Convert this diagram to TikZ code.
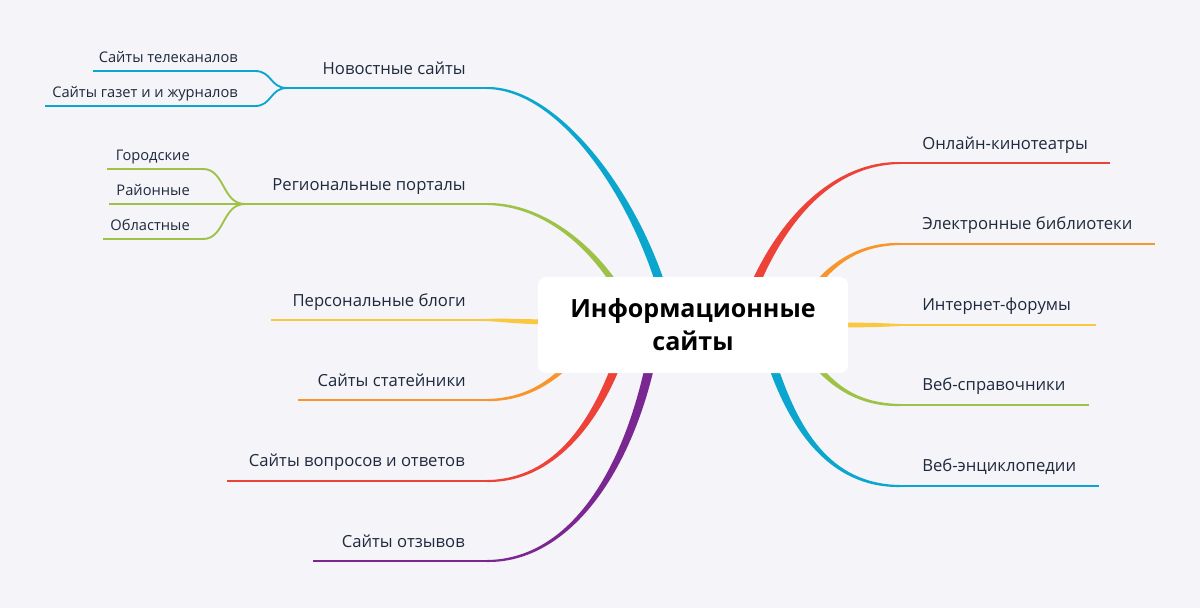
\documentclass[tikz,border=0pt]{standalone}
\usepackage{fontspec}
\setmainfont{Open Sans}
\usepackage{xcolor}
\definecolor{bg}{HTML}{F4F4F9}
\definecolor{ink}{HTML}{1E2A3C}
\definecolor{cblue}{HTML}{0AA6CE}
\definecolor{cgreen}{HTML}{9DC246}
\definecolor{cyellow}{HTML}{F9C83E}
\definecolor{corange}{HTML}{F7962D}
\definecolor{cred}{HTML}{EC4237}
\definecolor{cpurple}{HTML}{7B2792}
\usepackage{tikz}
\usetikzlibrary{calc, positioning, backgrounds}

% tapered branch: colour, start, control 1, control 2, end, half width at end
\newcommand{\limb}[6]{%
  \fill[#1] ($#2+(0,-1)$) .. controls ($#3+(0,-2)$) and ($#4+#6$) .. ($#5+#6$)
    -- ($#5-#6$) .. controls ($#4-#6$) and ($#3+(0,2)$) .. ($#2+(0,1)$) -- cycle;}

\begin{document}
\begin{tikzpicture}[x=0.75pt, y=-0.75pt,
  hub/.style={fill=white, rounded corners=6pt, minimum width=232.5pt,
              minimum height=72pt, align=center, text=black,
              font=\fontsize{18.8}{24.75}\selectfont\bfseries},
  lbl/.style={font=\fontsize{12.5}{15}\selectfont, text=ink, inner sep=0pt},
  sublbl/.style={font=\fontsize{11}{13}\selectfont, text=ink, inner sep=0pt},
  rule/.style={line width=1.5pt},
  twig/.style={line width=1.4pt}]

  \useasboundingbox (0,0) rectangle (1200,608);

  \node[hub] (hub) at (693,325) {Информационные\\сайты};

  % left side
  \node[lbl, anchor=base east] (news) at (466,74) {Новостные сайты};
  \coordinate (news-a) at (287,88);
  \coordinate (news-b) at (487,88);
  \node[sublbl, anchor=base east] (tv) at (238,62) {Сайты телеканалов};
  \coordinate (tv-a) at (93,71);
  \coordinate (tv-b) at (255,71);
  \node[sublbl, anchor=base east] (press) at (238,97) {Сайты газет и и журналов};
  \coordinate (press-a) at (45,106);
  \coordinate (press-b) at (255,106);

  \node[lbl, anchor=base east] (region) at (466,190) {Региональные порталы};
  \coordinate (region-a) at (245,204);
  \coordinate (region-b) at (487,204);
  \node[sublbl, anchor=base east] (city) at (190,160) {Городские};
  \coordinate (city-a) at (107,169);
  \coordinate (city-b) at (203,169);
  \node[sublbl, anchor=base east] (district) at (190,195) {Районные};
  \coordinate (district-a) at (109,204);
  \node[sublbl, anchor=base east] (oblast) at (190,230) {Областные};
  \coordinate (oblast-a) at (103,239);
  \coordinate (oblast-b) at (203,239);

  \node[lbl, anchor=base east] (blogs) at (466,306) {Персональные блоги};
  \coordinate (blogs-a) at (271,320);
  \coordinate (blogs-b) at (487,320);

  \node[lbl, anchor=base east] (articles) at (466,386) {Сайты статейники};
  \coordinate (articles-a) at (298,400);
  \coordinate (articles-b) at (487,400);

  \node[lbl, anchor=base east] (qa) at (465,466) {Сайты вопросов и ответов};
  \coordinate (qa-a) at (227,481);
  \coordinate (qa-b) at (487,481);

  \node[lbl, anchor=base east] (reviews) at (465,547) {Сайты отзывов};
  \coordinate (reviews-a) at (313,561);
  \coordinate (reviews-b) at (487,561);

  % right side
  \node[lbl, anchor=base west] (cinema) at (922,149) {Онлайн-кинотеатры};
  \coordinate (cinema-a) at (900,163);
  \coordinate (cinema-b) at (1110,163);

  \node[lbl, anchor=base west] (library) at (922,229) {Электронные библиотеки};
  \coordinate (library-a) at (900,244);
  \coordinate (library-b) at (1155,244);

  \node[lbl, anchor=base west] (forums) at (922,310) {Интернет-форумы};
  \coordinate (forums-a) at (900,325);
  \coordinate (forums-b) at (1096,325);

  \node[lbl, anchor=base west] (reference) at (922,390) {Веб-справочники};
  \coordinate (reference-a) at (900,405);
  \coordinate (reference-b) at (1089,405);

  \node[lbl, anchor=base west] (encyclo) at (922,471) {Веб-энциклопедии};
  \coordinate (encyclo-a) at (900,486);
  \coordinate (encyclo-b) at (1099,486);

  \begin{scope}[on background layer]
    \fill[bg] (0,0) rectangle (1200,608);

    % branches into the hub
    \limb{cblue}{(news-b)}{(560,88)}{(640,200)}{(668,310)}{(4.8,0)}
    \limb{cgreen}{(region-b)}{(545,204)}{(600,250)}{(630,310)}{(4,0)}
    \limb{cyellow}{(blogs-b)}{(505,320)}{(520,322)}{(560,322)}{(0,-2.5)}
    \limb{corange}{(articles-b)}{(522,400)}{(555,385)}{(585,345)}{(-3.8,0)}
    \limb{cred}{(qa-b)}{(555,481)}{(600,420)}{(625,340)}{(-4.8,0)}
    \limb{cpurple}{(reviews-b)}{(570,561)}{(632,470)}{(655,340)}{(-4.8,0)}

    \limb{cred}{(cinema-a)}{(830,163)}{(775,225)}{(745,310)}{(-4.8,0)}
    \limb{corange}{(library-a)}{(860,244)}{(830,262)}{(805,300)}{(-3.8,0)}
    \limb{cyellow}{(forums-a)}{(880,325)}{(865,325)}{(830,325)}{(0,-2.5)}
    \limb{cgreen}{(reference-a)}{(860,405)}{(830,388)}{(805,350)}{(3.8,0)}
    \limb{cblue}{(encyclo-a)}{(830,486)}{(790,430)}{(765,340)}{(4.8,0)}

    % underlines
    \draw[rule, cblue] (news-a) -- (news-b);
    \draw[rule, cgreen] (region-a) -- (region-b);
    \draw[rule, cyellow] (blogs-a) -- (blogs-b);
    \draw[rule, corange] (articles-a) -- (articles-b);
    \draw[rule, cred] (qa-a) -- (qa-b);
    \draw[rule, cpurple] (reviews-a) -- (reviews-b);
    \draw[rule, cred] (cinema-a) -- (cinema-b);
    \draw[rule, corange] (library-a) -- (library-b);
    \draw[rule, cyellow] (forums-a) -- (forums-b);
    \draw[rule, cgreen] (reference-a) -- (reference-b);
    \draw[rule, cblue] (encyclo-a) -- (encyclo-b);

    % sub branches
    \draw[twig, cblue] (tv-a) -- (tv-b) .. controls (272,71) and (270,88) .. (news-a);
    \draw[twig, cblue] (press-a) -- (press-b) .. controls (272,106) and (270,88) .. (news-a);
    \draw[twig, cgreen] (city-a) -- (city-b) .. controls (225,169) and (222,204) .. (region-a);
    \draw[twig, cgreen] (district-a) -- (region-a);
    \draw[twig, cgreen] (oblast-a) -- (oblast-b) .. controls (225,239) and (222,204) .. (region-a);
  \end{scope}

\end{tikzpicture}
\end{document}
